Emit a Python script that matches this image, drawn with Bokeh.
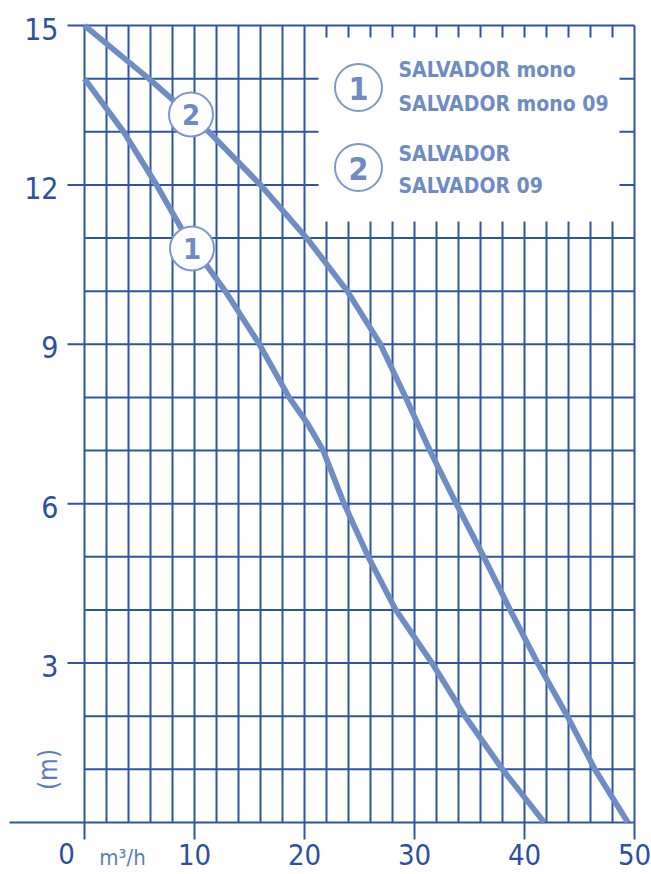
import numpy as np
from bokeh.plotting import figure
from bokeh.models import Range1d
from bokeh.core.properties import value
from bokeh.embed import file_html
from bokeh.resources import INLINE

# ---- data ----
flow_1 = [0, 3.55, 6.55, 9.3, 12.8, 15.9, 18.6, 20.3, 21.7, 23.6, 25.8, 28.3, 31.6, 34.6, 38.0, 41.8]
head_1 = [14, 13, 12, 11, 10, 9, 8, 7.5, 7, 6, 5, 4, 3, 2, 1, 0]
flow_2 = [0, 5.85, 11.3, 16.0, 20.2, 23.9, 26.9, 29.2, 31.4, 33.8, 36.3, 38.7, 41.2, 43.9, 46.4, 49.4]
head_2 = [15, 14, 13, 12, 11, 10, 9, 8, 7, 6, 5, 4, 3, 2, 1, 0]
x_ticks = [10, 20, 30, 40, 50]
y_ticks = [3, 6, 9, 12, 15]
legend_ids = ["1", "2"]
legend_lines = [["SALVADOR mono", "SALVADOR mono 09"], ["SALVADOR", "SALVADOR 09"]]
x_unit = "m³/h"
y_unit = "(m)"

# ---- layout helpers (page pixels -> data) ----
W, H = 651, 874
PX_X0, PX_PER_X = 84.0, 11.0
PX_Y0, PX_PER_Y = 822.0, 53.133
def dx(px):
    return (px - PX_X0) / PX_PER_X
def dy(py):
    return (PX_Y0 - py) / PX_PER_Y

x_start = dx(0); x_end = dx(W)
y_end = dy(0); y_start = dy(H)

GRID = "#2e55a5"
CURVE = "#6f8dc5"
LIGHT = "#6e8bc4"
LABEL = "#2c50a0"
FONT = value("DejaVu Sans Condensed, Open Sans")

p = figure(width=W, height=H, x_range=Range1d(x_start, x_end), y_range=Range1d(y_start, y_end),
           min_border=0, x_axis_location=None, y_axis_location=None,
           toolbar_location=None, output_backend="svg", outline_line_color=None)
p.xgrid.visible = False
p.ygrid.visible = False
p.background_fill_color = "white"
p.border_fill_color = "white"

# grid
vx = np.arange(0, 51, 2)
p.segment(x0=vx, y0=np.zeros_like(vx), x1=vx, y1=np.full(len(vx), 15), line_color=GRID, line_width=2)
hy = np.arange(0, 16, 1)
p.segment(x0=np.zeros_like(hy), y0=hy, x1=np.full(len(hy), 50), y1=hy, line_color=GRID, line_width=2)
# tick extensions
p.segment(x0=[dx(67)] * len(y_ticks), y0=y_ticks, x1=[0] * len(y_ticks), y1=y_ticks, line_color=GRID, line_width=2)
p.segment(x0=[dx(9)], y0=[0], x1=[0], y1=[0], line_color=GRID, line_width=2)
xt_all = [0] + x_ticks
p.segment(x0=xt_all, y0=[dy(839)] * len(xt_all), x1=xt_all, y1=[0] * len(xt_all), line_color=GRID, line_width=2)

# legend box (white)
p.quad(left=[dx(318)], right=[dx(619)], top=[dy(37)], bottom=[dy(221)], fill_color="white", line_color=None)

# curves
p.line(flow_1, head_1, line_color=CURVE, line_width=5.8, line_join="round")
p.line(flow_2, head_2, line_color=CURVE, line_width=5.8, line_join="round")

# curve labels
p.scatter(x=[dx(191.5), dx(190.5)], y=[dy(248), dy(114)], size=44, marker="circle",
          fill_color="white", line_color="#7f98cb", line_width=2)
p.text(x=[dx(191.5), dx(190.5)], y=[dy(248), dy(114)], text=legend_ids, text_align="center",
       text_baseline="middle", text_font=FONT, text_font_style="bold", text_font_size="29px",
       text_color=LIGHT)

# legend entries
p.scatter(x=[dx(358), dx(358)], y=[dy(87), dy(167)], size=47, marker="circle",
          fill_color="white", line_color="#7f98cb", line_width=2)
p.text(x=[dx(358), dx(358)], y=[dy(88), dy(168)], text=legend_ids, text_align="center",
       text_baseline="middle", text_font=FONT, text_font_style="bold", text_font_size="32px",
       text_color=LIGHT)
flat_lines = [s for grp in legend_lines for s in grp]
p.text(x=[dx(398)] * 4, y=[dy(69), dy(103), dy(153), dy(185)], text=flat_lines,
       text_align="left", text_baseline="middle", text_font=FONT, text_font_style="bold",
       text_font_size="21px", text_color=LIGHT)

# tick labels
p.text(x=[dx(58)] * len(y_ticks), y=y_ticks, text=[str(v) for v in y_ticks], text_align="right",
       text_baseline="middle", y_offset=3, text_font=FONT, text_font_size="30px", text_color=LABEL)
p.text(x=x_ticks, y=[dy(854)] * len(x_ticks), text=[str(v) for v in x_ticks], text_align="center",
       text_baseline="middle", text_font=FONT, text_font_size="29px", text_color=LABEL)
p.text(x=[dx(66)], y=[dy(853)], text=["0"], text_align="center",
       text_baseline="middle", text_font=FONT, text_font_size="29px", text_color=LABEL)

# unit labels
p.text(x=[dx(122)], y=[dy(857)], text=[x_unit], text_align="center", text_baseline="middle",
       text_font=FONT, text_font_size="22px", text_color="#5b7cbf")
p.text(x=[dx(47)], y=[dy(769)], text=[y_unit], text_align="center", text_baseline="middle",
       angle=np.pi / 2, text_font=FONT, text_font_size="26px", text_color="#5b7cbf")

open("out.html", "w").write(file_html(p, INLINE))
